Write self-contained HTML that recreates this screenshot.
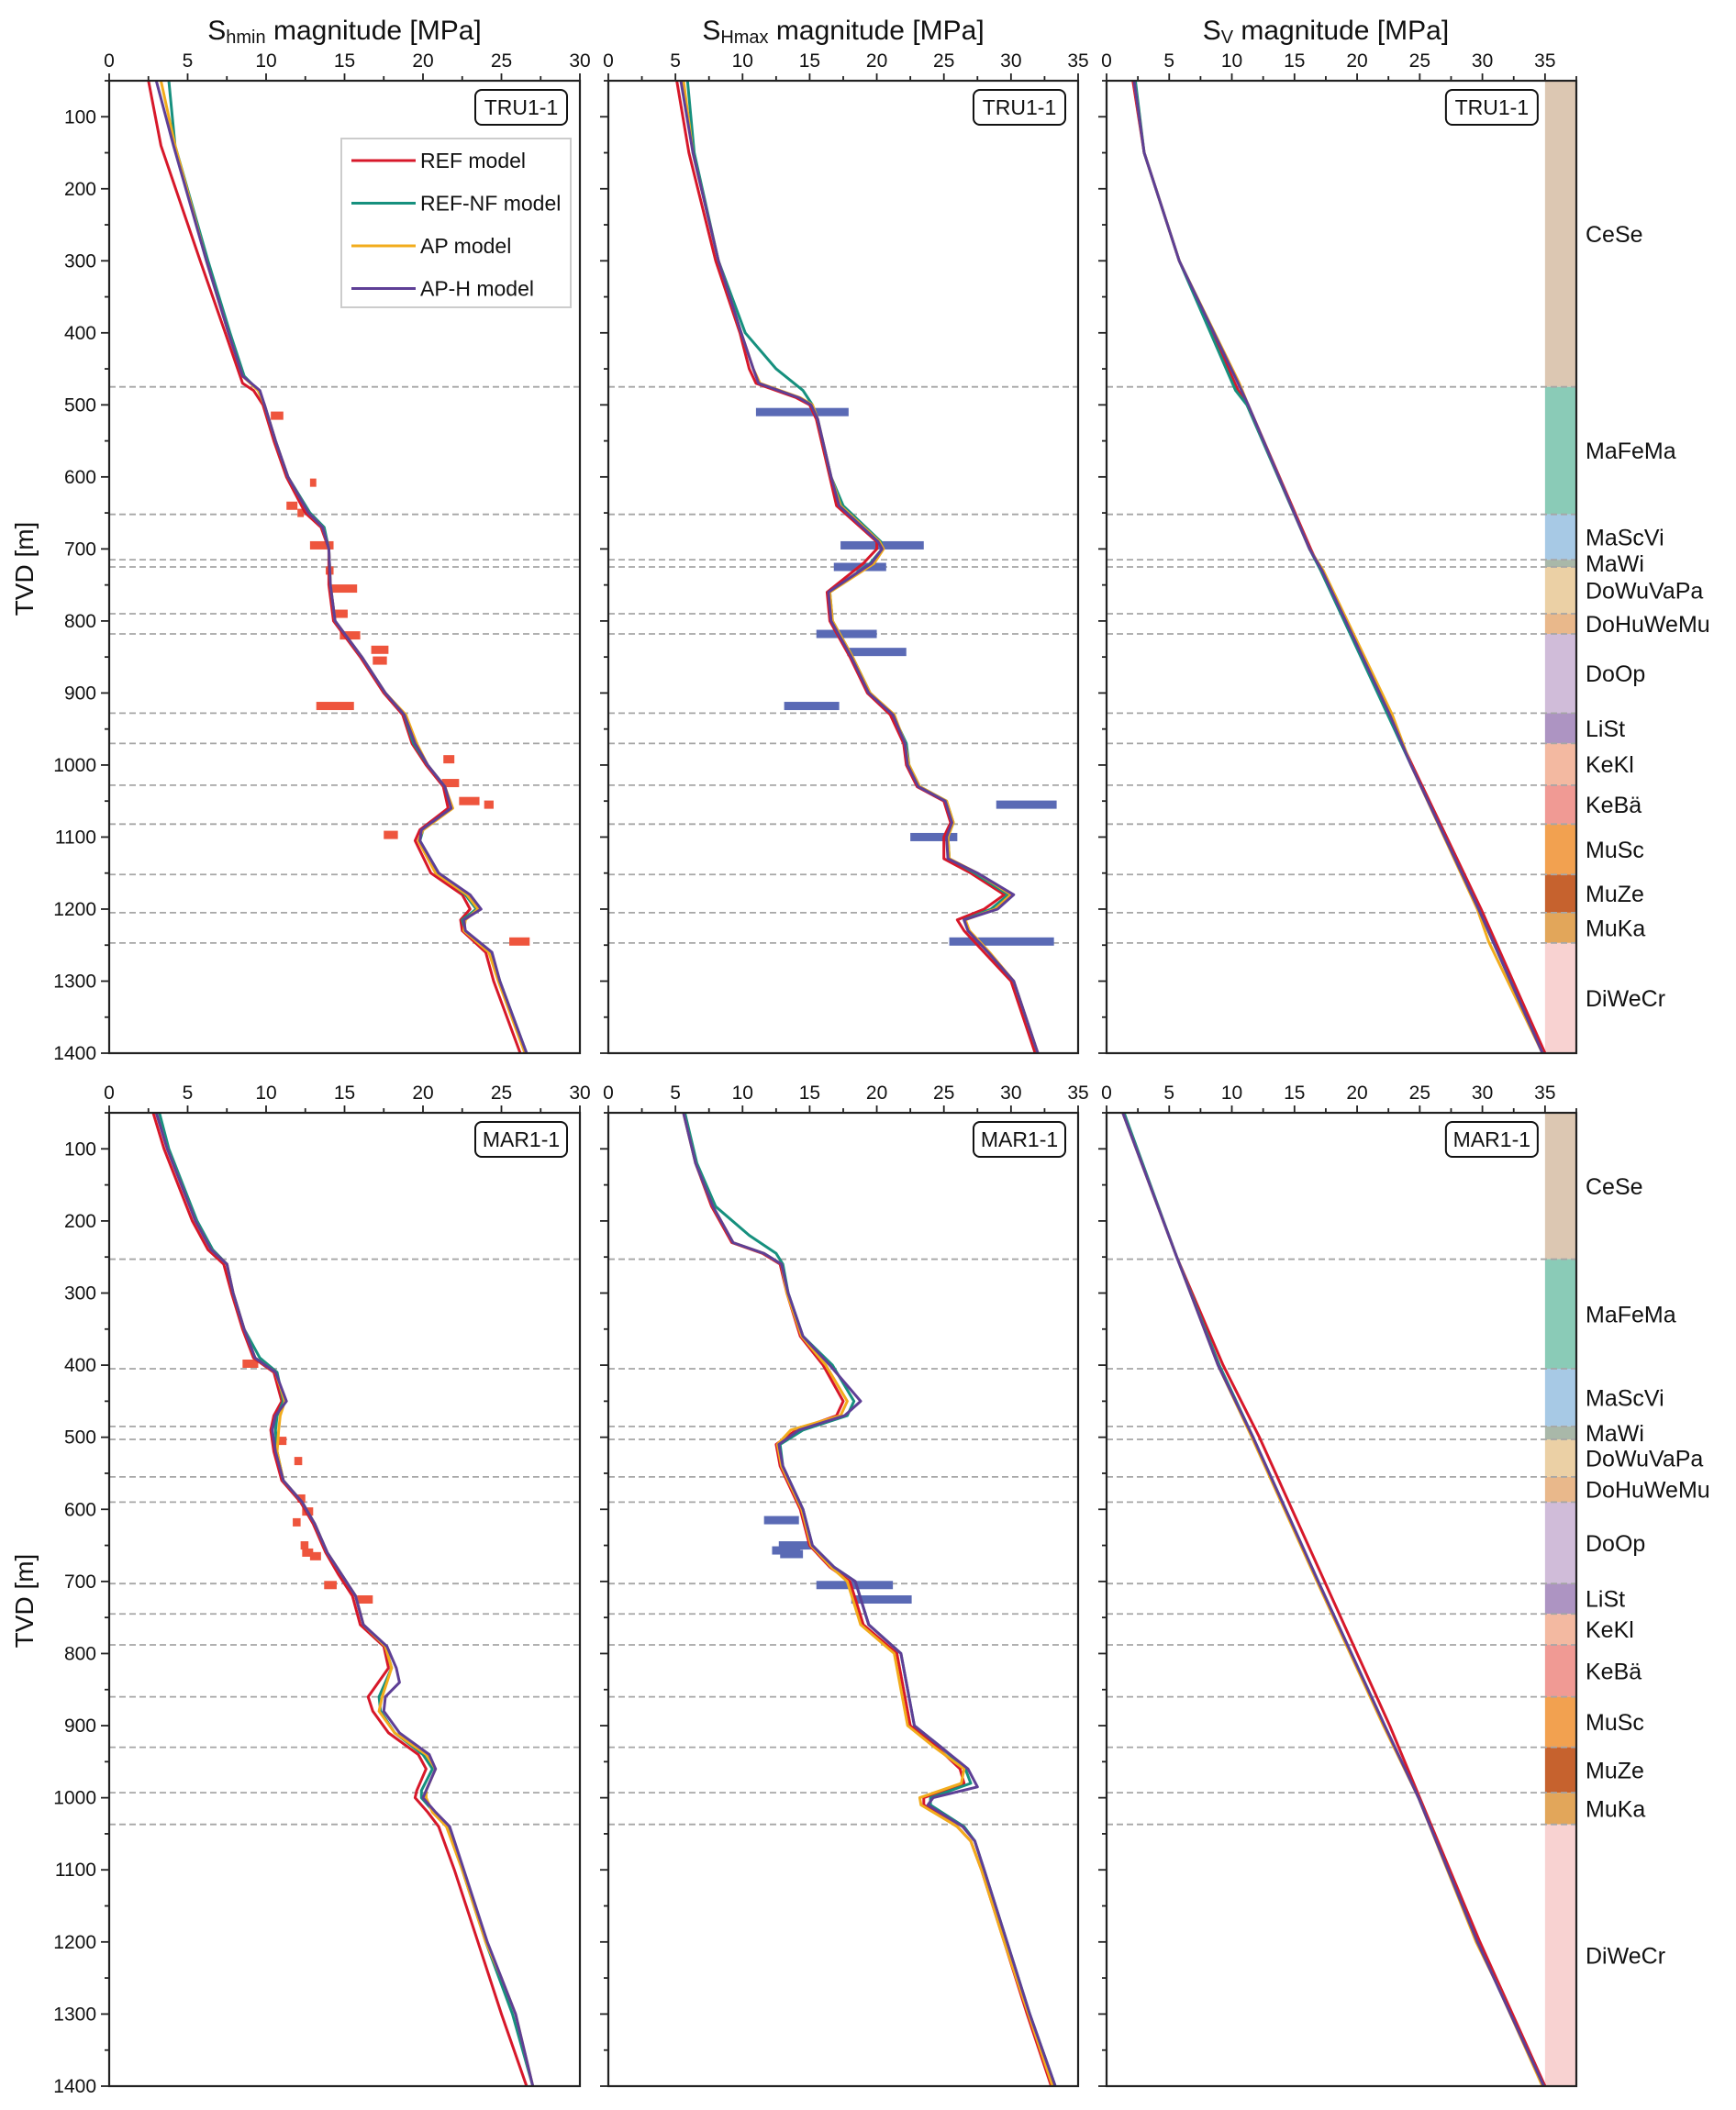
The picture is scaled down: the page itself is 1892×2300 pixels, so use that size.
<!DOCTYPE html>
<html><head><meta charset="utf-8">
<style>
html,body{margin:0;padding:0;background:#fff;}
svg{display:block;font-family:"Liberation Sans","DejaVu Sans",sans-serif;}
</style></head>
<body>
<svg id="fig" width="1892" height="2300" viewBox="0 0 1892 2300" xmlns="http://www.w3.org/2000/svg"></svg>
<script>
// ---------- DATA (depth [m], value [MPa]) ----------
const tru_shmin_ref = [[50,2.5],[140,3.3],[300,5.8],[400,7.4],[470,8.5],[480,9.2],[500,9.8],[550,10.5],[600,11.3],[650,12.5],[670,13.5],[700,14],[750,14],[800,14.3],[850,16],[900,17.5],[930,18.7],[970,19.3],[1000,20.2],[1030,21.3],[1060,21.6],[1090,19.8],[1105,19.5],[1150,20.5],[1180,22.5],[1200,23],[1215,22.4],[1230,22.5],[1260,24],[1300,24.5],[1400,26.2]];
const tru_shmin_nf = [[50,3.8],[140,4.2],[300,6.3],[400,7.7],[460,8.6],[480,9.5],[500,9.9],[550,10.6],[600,11.4],[650,12.8],[670,13.7],[700,14],[750,14.1],[800,14.4],[850,16.1],[900,17.6],[930,18.8],[970,19.4],[1000,20.3],[1030,21.4],[1060,21.8],[1090,20],[1105,19.8],[1150,21],[1180,22.7],[1200,23.4],[1215,22.5],[1230,22.7],[1260,24.3],[1300,24.9],[1400,26.6]];
const tru_shmin_ap = [[50,3.3],[140,4.2],[300,6.2],[400,7.6],[460,8.5],[480,9.5],[500,9.9],[550,10.6],[600,11.4],[650,12.7],[670,13.6],[700,14],[750,14.1],[800,14.4],[850,16.1],[900,17.6],[930,18.9],[970,19.6],[1000,20.3],[1030,21.4],[1060,21.9],[1090,20],[1105,19.7],[1150,20.8],[1180,22.8],[1200,23.5],[1215,22.7],[1230,22.6],[1260,24.2],[1300,24.8],[1400,26.5]];
const tru_shmin_aph = [[50,3.0],[140,4.1],[300,6.2],[400,7.6],[460,8.5],[480,9.6],[500,9.9],[550,10.6],[600,11.4],[650,12.7],[670,13.6],[700,14],[750,14.1],[800,14.4],[850,16.1],[900,17.6],[930,18.8],[970,19.5],[1000,20.3],[1030,21.4],[1060,21.8],[1090,19.9],[1105,19.8],[1150,21],[1180,23],[1200,23.7],[1215,22.6],[1230,22.7],[1260,24.4],[1300,24.9],[1400,26.6]];
const tru_shmin_obs_depth = [515,608,640,650,695,730,755,790,820,840,855,918,992,1025,1050,1055,1097,1245];
const tru_shmin_obs_lo = [10.3,12.8,11.3,12.0,12.8,13.8,14.1,14.2,14.7,16.7,16.8,13.2,21.3,21.2,22.3,23.9,17.5,25.5];
const tru_shmin_obs_hi = [11.1,13.2,12.0,12.4,14.3,14.3,15.8,15.2,16.0,17.8,17.7,15.6,22.0,22.3,23.6,24.5,18.4,26.8];

const tru_shmax_ref = [[50,5.1],[150,6],[300,8],[400,9.8],[450,10.5],[470,11],[490,14],[500,15],[520,15.5],[600,16.5],[640,17],[690,20],[700,20],[720,19],[760,16.3],[800,16.5],[850,18],[900,19.3],[930,21],[970,22],[1000,22.2],[1030,23],[1050,25],[1080,25.5],[1100,25],[1130,25],[1150,27],[1180,29.5],[1200,28],[1215,26],[1230,26.5],[1260,28],[1300,30],[1400,31.8]];
const tru_shmax_nf = [[50,5.9],[150,6.4],[300,8.2],[400,10.2],[450,12.5],[480,14.5],[500,15.2],[520,15.6],[600,16.6],[640,17.5],[690,20.3],[700,20.4],[720,19.5],[760,16.5],[800,16.7],[850,18.2],[900,19.5],[930,21.2],[970,22.2],[1000,22.4],[1030,23.2],[1050,25.2],[1080,25.7],[1100,25.3],[1130,25.4],[1150,27.3],[1180,29.8],[1200,28.5],[1215,26.5],[1230,26.8],[1260,28.3],[1300,30.2],[1400,32]];
const tru_shmax_ap = [[50,5.6],[150,6.3],[300,8.2],[400,9.9],[450,10.8],[470,11.3],[490,14.3],[500,15.2],[520,15.6],[600,16.6],[640,17.3],[690,20.2],[700,20.5],[720,19.8],[760,16.5],[800,16.7],[850,18.2],[900,19.5],[930,21.3],[970,22.1],[1000,22.4],[1030,23.2],[1050,25.2],[1080,25.7],[1100,25.3],[1130,25.4],[1150,27.5],[1180,30],[1200,28.8],[1215,26.6],[1230,26.9],[1260,28.4],[1300,30.2],[1400,32]];
const tru_shmax_aph = [[50,5.4],[150,6.3],[300,8.2],[400,9.9],[450,10.8],[470,11.2],[490,14.2],[500,15.1],[520,15.6],[600,16.6],[640,17.2],[690,20.1],[700,20.4],[720,19.6],[760,16.4],[800,16.6],[850,18.1],[900,19.4],[930,21.2],[970,22.1],[1000,22.3],[1030,23.1],[1050,25.1],[1080,25.6],[1100,25.2],[1130,25.3],[1150,27.5],[1180,30.2],[1200,29],[1215,26.5],[1230,26.8],[1260,28.3],[1300,30.2],[1400,32]];
const tru_shmax_obs_depth = [510,695,725,818,843,918,1055,1100,1245];
const tru_shmax_obs_lo = [11.0,17.3,16.8,15.5,17.8,13.1,28.9,22.5,25.4];
const tru_shmax_obs_hi = [17.9,23.5,20.7,20.0,22.2,17.2,33.4,26.0,33.2];

const tru_sv_ref = [[50,2.1],[150,3.0],[300,5.8],[480,10.5],[500,11.3],[700,16.3],[730,17.1],[1000,24.4],[1200,29.9],[1400,35]];
const tru_sv_nf = [[50,2.3],[150,3.0],[300,5.8],[480,10.3],[500,11.2],[700,16.2],[730,17.1],[1000,24.3],[1200,29.7],[1400,34.8]];
const tru_sv_ap = [[50,2.2],[150,3.0],[300,5.8],[470,10.6],[500,11.3],[700,16.2],[730,17.3],[930,22.8],[1000,24.3],[1200,29.6],[1245,30.5],[1400,34.8]];
const tru_sv_aph = [[50,2.2],[150,3.0],[300,5.8],[470,10.5],[500,11.3],[700,16.2],[730,17.2],[930,22.6],[1000,24.3],[1200,29.7],[1400,34.8]];

const mar_shmin_ref = [[50,2.8],[100,3.5],[200,5.3],[240,6.3],[260,7.3],[300,7.8],[350,8.5],[390,9.2],[410,10.5],[450,11],[470,10.5],[490,10.3],[520,10.5],[560,11],[590,12.2],[620,13],[660,13.8],[690,14.6],[720,15.5],[760,16],[790,17.5],[820,17.8],[860,16.5],[880,16.8],[910,17.8],[940,19.7],[960,20.2],[990,19.6],[1000,19.5],[1020,20.3],[1040,21],[1100,22],[1200,23.5],[1300,25],[1400,26.6]];
const mar_shmin_nf = [[50,3.2],[100,3.8],[200,5.6],[240,6.6],[260,7.5],[300,7.9],[350,8.6],[390,9.6],[410,10.7],[450,11.1],[470,10.7],[490,10.6],[520,10.7],[560,11.1],[590,12.3],[620,13.1],[660,13.9],[690,14.8],[720,15.7],[760,16.2],[790,17.6],[820,18],[860,17.2],[880,17.3],[910,18.2],[940,20],[960,20.6],[990,19.9],[1000,19.9],[1020,20.7],[1040,21.6],[1100,22.5],[1200,24],[1300,25.7],[1400,27]];
const mar_shmin_ap = [[50,3.0],[100,3.7],[200,5.5],[240,6.5],[260,7.5],[300,7.9],[350,8.6],[390,9.3],[410,10.6],[450,11.2],[470,10.9],[490,10.8],[520,10.7],[560,11.1],[590,12.3],[620,13.1],[660,13.9],[690,14.8],[720,15.7],[760,16.2],[790,17.6],[820,18],[860,17.4],[880,17.2],[910,18.2],[940,20.2],[960,20.8],[990,20.2],[1000,20.2],[1020,20.6],[1040,21.5],[1100,22.5],[1200,24],[1250,25],[1300,25.9],[1400,27]];
const mar_shmin_aph = [[50,3.0],[100,3.7],[200,5.5],[240,6.5],[260,7.5],[300,7.9],[350,8.6],[390,9.3],[410,10.6],[450,11.3],[470,10.6],[490,10.4],[520,10.6],[560,11.1],[590,12.3],[620,13.1],[660,13.9],[690,14.8],[720,15.7],[760,16.2],[790,17.7],[820,18.3],[840,18.5],[860,17.6],[880,17.5],[910,18.5],[940,20.4],[960,20.8],[990,20.2],[1000,20.0],[1020,20.8],[1040,21.7],[1100,22.6],[1200,24.1],[1250,25],[1300,25.9],[1400,27]];
const mar_shmin_obs_depth = [398,505,533,585,603,618,650,660,665,705,725];
const mar_shmin_obs_lo = [8.5,10.7,11.8,12.0,12.3,11.7,12.2,12.3,12.8,13.7,15.8];
const mar_shmin_obs_hi = [9.5,11.3,12.3,12.5,13.0,12.2,12.7,13.0,13.5,14.5,16.8];

const mar_shmax_ref = [[50,5.6],[120,6.5],[180,7.7],[230,9.2],[245,11.5],[260,12.8],[300,13.3],[360,14.3],[400,16],[450,17.5],[470,17],[490,14],[510,12.5],[540,12.8],[600,14.3],[650,15],[680,16.5],[700,18],[760,19],[800,21.5],[850,22],[900,22.5],[930,24.5],[960,26.2],[980,26.5],[1000,23.5],[1010,23.5],[1040,26],[1060,27],[1100,27.8],[1200,29.5],[1300,31.2],[1400,33]];
const mar_shmax_nf = [[50,5.7],[120,6.6],[180,8],[220,10.5],[245,12.5],[260,13],[300,13.4],[360,14.5],[400,16.7],[450,18.3],[470,17.8],[490,14.5],[510,12.8],[540,13],[600,14.5],[650,15.2],[680,16.8],[700,18.4],[760,19.4],[800,21.8],[850,22.3],[900,22.8],[930,24.8],[960,26.6],[980,27],[1000,24],[1010,24],[1040,26.5],[1060,27.3],[1100,28],[1200,29.7],[1300,31.4],[1400,33.3]];
const mar_shmax_ap = [[50,5.6],[120,6.5],[180,7.8],[230,9.3],[245,11.6],[260,12.9],[300,13.3],[360,14.4],[400,16.2],[450,17.8],[470,17.3],[490,13.6],[510,12.6],[540,12.9],[600,14.4],[650,15.1],[680,16.6],[700,17.8],[760,18.8],[800,21.3],[850,21.8],[900,22.3],[930,24.3],[960,26.5],[980,26.3],[1000,23.2],[1010,23.3],[1040,26],[1060,27],[1100,27.8],[1200,29.5],[1300,31.3],[1400,33.1]];
const mar_shmax_aph = [[50,5.6],[120,6.5],[180,7.8],[230,9.3],[245,11.6],[260,12.9],[300,13.4],[360,14.5],[400,16.5],[450,18.8],[470,17.6],[490,14.2],[510,12.7],[540,13],[600,14.5],[650,15.2],[680,16.8],[700,18.4],[760,19.4],[800,21.8],[850,22.3],[900,22.8],[930,24.8],[960,26.8],[985,27.5],[1000,24.2],[1010,23.8],[1040,26.4],[1060,27.3],[1100,28],[1200,29.7],[1300,31.4],[1400,33.3]];
const mar_shmax_obs_depth = [615,650,657,662,705,725];
const mar_shmax_obs_lo = [11.6,12.7,12.2,12.8,15.5,18.1];
const mar_shmax_obs_hi = [14.2,15.2,14.3,14.5,21.2,22.6];

const mar_sv_ref = [[50,1.3],[250,5.6],[400,9.3],[500,12.2],[700,17.4],[900,22.6],[1000,25],[1200,29.8],[1400,35]];
const mar_sv_nf = [[50,1.4],[250,5.6],[400,9.0],[500,11.7],[700,16.9],[900,22.2],[1000,24.9],[1200,29.6],[1400,34.9]];
const mar_sv_ap = [[50,1.3],[250,5.6],[400,8.9],[500,11.6],[700,16.8],[900,22.1],[1000,24.9],[1200,29.5],[1260,31.2],[1400,34.8]];
const mar_sv_aph = [[50,1.3],[250,5.6],[400,8.9],[500,11.7],[700,16.9],[900,22.2],[1000,24.9],[1200,29.6],[1400,34.9]];

const formation_names = ["CeSe","MaFeMa","MaScVi","MaWi","DoWuVaPa","DoHuWeMu","DoOp","LiSt","KeKl","KeBä","MuSc","MuZe","MuKa","DiWeCr"];
const formation_colors = ["#dcc7b2","#8acbb7","#a7c9e5","#a9b8a9","#ebd0a5","#e9b88b","#d0bcd9","#ad94c2","#f3b9a1","#f09a94","#f2a150","#c6622e","#e2a65a","#f8d2d1"];
const tru_form_tops = [50,475,652,715,725,790,818,928,970,1028,1082,1152,1205,1247,1400];
const mar_form_tops = [50,253,405,485,503,555,590,703,745,788,860,930,993,1037,1400];

const model_names = ["REF model","REF-NF model","AP model","AP-H model"];
const model_colors = ["#d7182a","#16907e","#f2ac1c","#5e3f96"];

// ---------- DRAWING ----------
const NS = "http://www.w3.org/2000/svg";
const svg = document.getElementById("fig");
function mk(tag, attrs, parent, text){
  const e = document.createElementNS(NS, tag);
  for (const k in attrs) e.setAttribute(k, attrs[k]);
  if (text !== undefined) e.textContent = text;
  (parent || svg).appendChild(e);
  return e;
}
const colX = [[119,632],[663,1175],[1206,1718]];
const xMax = [30,35,37.5];
const rowY = [[88,1148],[1213,2274]];

function panel(row, col, series, obsD, obsLo, obsHi, obsColor, tops, well, key){
  const [x0,x1] = colX[col], [y0,y1] = rowY[row];
  const xs = v => x0 + v/xMax[col]*(x1-x0);
  const ys = d => y0 + (d-50)/1350*(y1-y0);
  const g = mk("g", {}, svg);
  
  
  // formation column (Sv panel)
  if (col === 2){
    for (let i=0;i<formation_names.length;i++){
      const r = mk("rect",{x:xs(35),y:ys(tops[i]),width:xs(37.5)-xs(35),height:ys(tops[i+1])-ys(tops[i]),fill:formation_colors[i]},g);
      
      
      const t = mk("text",{x:x1+10,y:(ys(tops[i])+ys(tops[i+1]))/2+9,"font-size":25,fill:"#111"},g,formation_names[i]);
      
      
    }
  }
  // dashed formation boundaries
  for (let i=1;i<tops.length-1;i++){
    const l = mk("line",{x1:x0,x2:x1,y1:ys(tops[i]),y2:ys(tops[i]),stroke:"#a6a6a6","stroke-width":1.8,"stroke-dasharray":"7,4"},g);
    
    
  }
  // observations
  if (obsD){
    for (let i=0;i<obsD.length;i++){
      const r = mk("rect",{x:xs(obsLo[i]),y:ys(obsD[i])-4.5,width:xs(obsHi[i])-xs(obsLo[i]),height:9,fill:obsColor},g);
      
      
    }
  }
  // model lines
  series.forEach((s,i)=>{
    const p = mk("polyline",{points:s.map(q=>xs(q[1]).toFixed(1)+","+ys(q[0]).toFixed(1)).join(" "),fill:"none",stroke:model_colors[i],"stroke-width":3,"stroke-linejoin":"round"},g);
    
    
  });
  // frame
  const fr = mk("rect",{x:x0,y:y0,width:x1-x0,height:y1-y0,fill:"none",stroke:"#222","stroke-width":2.2},g);
  
  
  // x ticks
  for (let v=0; v<=xMax[col]+0.01; v+=2.5){
    const major = Math.abs(v%5)<0.01;
    mk("line",{x1:xs(v),x2:xs(v),y1:y0,y2:y0-(major?8:5),stroke:"#222","stroke-width":1.8},g);
    if (major && v<=35){
      const t = mk("text",{x:xs(v),y:y0-15,"font-size":21,"text-anchor":"middle",fill:"#111"},g,String(v));
      
      
    }
  }
  // y ticks
  for (let d=50; d<=1400; d+=50){
    const major = d%100===0;
    mk("line",{x1:x0,x2:x0-(major?9:5),y1:ys(d),y2:ys(d),stroke:"#222","stroke-width":1.8},g);
    if (major && col===0){
      const t = mk("text",{x:x0-14,y:ys(d)+7,"font-size":21,"text-anchor":"end",fill:"#111"},g,String(d));
      
      
    }
  }
  // well label
  const bw = well.length*14+16;
  const bx = (col===2? xs(35)-8 : x1-14) - bw;
  const wb = mk("rect",{x:bx,y:y0+10,width:bw,height:38,rx:7,fill:"#fff",stroke:"#111","stroke-width":2},g);
  
  
  const wt = mk("text",{x:bx+bw/2,y:y0+37,"font-size":23,"text-anchor":"middle",fill:"#111"},g,well);
  
  
}

panel(0,0,[tru_shmin_ref,tru_shmin_nf,tru_shmin_ap,tru_shmin_aph],tru_shmin_obs_depth,tru_shmin_obs_lo,tru_shmin_obs_hi,"#ee553d",tru_form_tops,"TRU1-1","tru-shmin");
panel(0,1,[tru_shmax_ref,tru_shmax_nf,tru_shmax_ap,tru_shmax_aph],tru_shmax_obs_depth,tru_shmax_obs_lo,tru_shmax_obs_hi,"#5a6ab5",tru_form_tops,"TRU1-1","tru-shmax");
panel(0,2,[tru_sv_ref,tru_sv_nf,tru_sv_ap,tru_sv_aph],null,null,null,"",tru_form_tops,"TRU1-1","tru-sv");
panel(1,0,[mar_shmin_ref,mar_shmin_nf,mar_shmin_ap,mar_shmin_aph],mar_shmin_obs_depth,mar_shmin_obs_lo,mar_shmin_obs_hi,"#ee553d",mar_form_tops,"MAR1-1","mar-shmin");
panel(1,1,[mar_shmax_ref,mar_shmax_nf,mar_shmax_ap,mar_shmax_aph],mar_shmax_obs_depth,mar_shmax_obs_lo,mar_shmax_obs_hi,"#5a6ab5",mar_form_tops,"MAR1-1","mar-shmax");
panel(1,2,[mar_sv_ref,mar_sv_nf,mar_sv_ap,mar_sv_aph],null,null,null,"",mar_form_tops,"MAR1-1","mar-sv");

// titles
const titles = [["S","hmin"],["S","Hmax"],["S","V"]];
titles.forEach((t,i)=>{
  const cx = i===2 ? (colX[2][0]+colX[2][0]+35/37.5*512)/2 : (colX[i][0]+colX[i][1])/2;
  const tx = mk("text",{x:cx,y:43,"font-size":30,"text-anchor":"middle",fill:"#111"});
  
  
  mk("tspan",{},tx,t[0]);
  mk("tspan",{"font-size":20,dy:4},tx,t[1]);
  mk("tspan",{dy:-4},tx," magnitude [MPa]");
});
// y-axis titles
[[36,620],[36,1745]].forEach(p=>{
  const t = mk("text",{x:p[0],y:p[1],"font-size":28,"text-anchor":"middle",fill:"#111",transform:`rotate(-90 ${p[0]} ${p[1]})`},svg,"TVD [m]");
  
  
});
// legend
const lg = mk("g",{});


mk("rect",{x:372,y:151,width:250,height:184,fill:"#fff",stroke:"#ccc","stroke-width":2},lg);
model_names.forEach((n,i)=>{
  const y = 175 + i*46.5;
  mk("line",{x1:383,x2:453,y1:y,y2:y,stroke:model_colors[i],"stroke-width":3},lg);
  const t = mk("text",{x:458,y:y+8,"font-size":23,fill:"#111"},lg,n);
  
  
});
</script>
</body></html>
